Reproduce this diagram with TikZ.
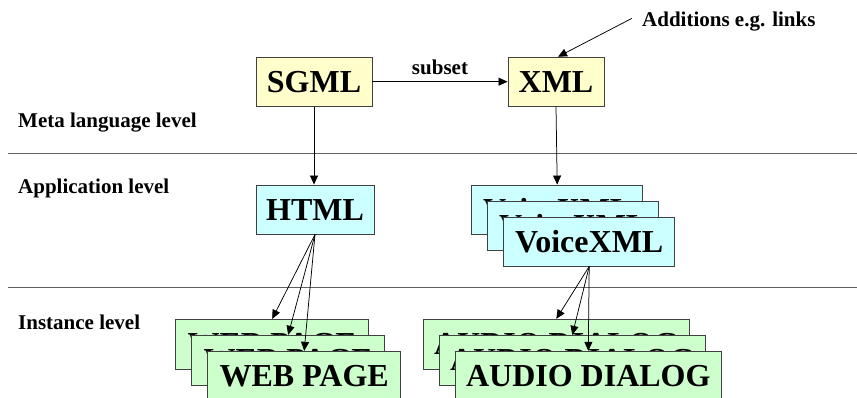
\documentclass[tikz,border=0pt]{standalone}
\usepackage{fontspec}
\setmainfont{Liberation Serif}
\usetikzlibrary{arrows.meta}

\definecolor{metafill}{HTML}{FFFFCC}
\definecolor{appfill}{HTML}{CCFFFF}
\definecolor{instfill}{HTML}{CCFFCC}
\definecolor{boxline}{HTML}{404040}
\definecolor{ruleline}{HTML}{606060}

\begin{document}
\begin{tikzpicture}[x=1pt, y=-1pt,
  box/.style={rectangle, draw=boxline, line width=0.9pt, inner sep=0pt,
    font=\fontsize{32}{36}\selectfont\bfseries, text height=21.2pt, text depth=0pt},
  metabox/.style={box, fill=metafill},
  appbox/.style={box, fill=appfill},
  instbox/.style={box, fill=instfill},
  levellabel/.style={anchor=base west, inner sep=0pt, font=\fontsize{21}{24}\selectfont\bfseries},
  smalllabel/.style={inner sep=0pt, font=\fontsize{21}{24}\selectfont\bfseries},
  link/.style={draw=black, line width=0.75pt, -{Triangle[length=9pt,width=8pt]}},
  rule/.style={draw=ruleline, line width=1pt}
]
\useasboundingbox (0,0) rectangle (857,398);
\clip (0,0) rectangle (857,398);

% level separators
\draw[rule] (8,153.3) -- (857,153.3);
\draw[rule] (8,287.7) -- (857,287.7);

% level captions
\node[levellabel] (lmeta) at (18,128) {Meta language level};
\node[levellabel] (lapp)  at (18,194) {Application level};
\node[levellabel] (linst) at (18,329.3) {Instance level};

% meta languages
\node[metabox, minimum width=116pt, minimum height=49pt] (sgml) at (314,81.7) {SGML};
\node[metabox, minimum width=96pt, minimum height=49pt] (xml) at (556,81.7) {XML};

% applications
\node[appbox, minimum width=118pt, minimum height=49pt] (html) at (315,209.5) {HTML};
\node[appbox, minimum width=171pt, minimum height=49pt] (vx1) at (557.2,209.5) {VoiceXML};
\node[appbox, minimum width=171pt, minimum height=49pt] (vx2) at (573.2,225.5) {VoiceXML};
\node[appbox, minimum width=171pt, minimum height=49pt] (vx3) at (589.2,241.5) {VoiceXML};

% instances
\node[instbox, minimum width=193pt, minimum height=50pt] (wp1) at (272.2,344.3) {WEB PAGE};
\node[instbox, minimum width=193pt, minimum height=50pt] (wp2) at (288.2,360.3) {WEB PAGE};
\node[instbox, minimum width=193pt, minimum height=50pt] (wp3) at (304.2,376.3) {WEB PAGE};
\node[instbox, minimum width=266pt, minimum height=50pt] (ad1) at (556.3,344.3) {AUDIO DIALOG};
\node[instbox, minimum width=266pt, minimum height=50pt] (ad2) at (572.3,360.3) {AUDIO DIALOG};
\node[instbox, minimum width=266pt, minimum height=50pt] (ad3) at (588.3,376.3) {AUDIO DIALOG};

% connectors
\draw[link] (sgml.east) -- node[smalllabel, anchor=base, yshift=7.2pt] (subsetlabel) {subset} (xml.west);
\draw[link] (sgml.south) -- (sgml.south |- html.north);
\draw[link] (xml.south) -- (vx1.north);

\draw[link] (html.south) -- (wp1.north);
\draw[link] (html.south) -- (wp2.north);
\draw[link] (html.south) -- (wp3.north);

\draw[link] (vx3.south) -- (ad1.north);
\draw[link] (vx3.south) -- (ad2.north);
\draw[link] (vx3.south) -- (ad3.north);

% annotation on XML
\node[smalllabel, anchor=base west] (additions) at (642,26.7) {Additions e.g. links};
\coordinate (addstart) at (632,18.3);
\draw[link] (addstart) -- ([xshift=2pt]xml.north);
\end{tikzpicture}
\end{document}
